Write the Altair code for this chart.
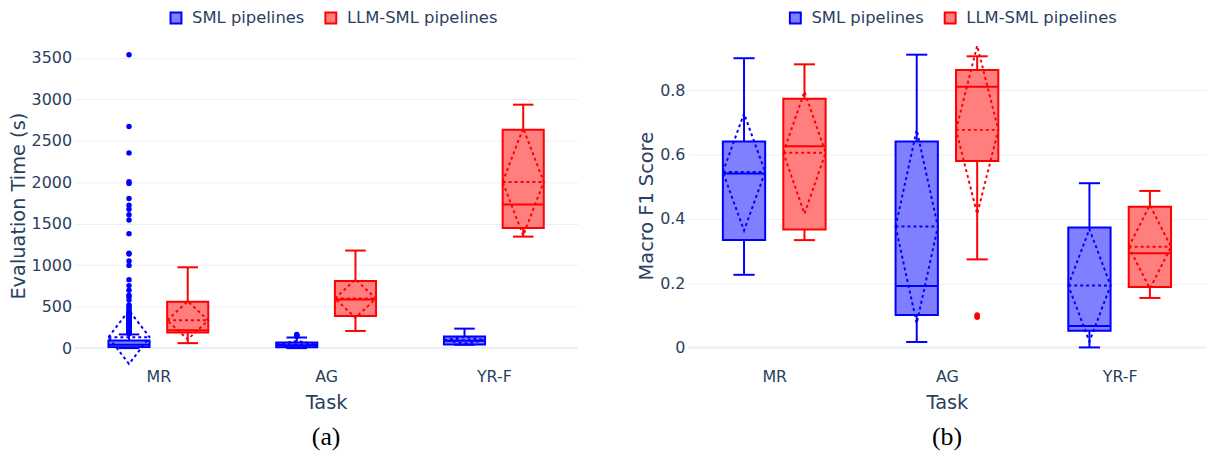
import json
import altair as alt
import pandas as pd

# ---------------- data ----------------
tasks = ["MR", "AG", "YR-F"]
series = ["SML pipelines", "LLM-SML pipelines"]

# Panel (a): Evaluation Time (s)
time_sml_lower = [0, 0, 40]
time_sml_q1 = [12, 10, 45]
time_sml_median = [40, 35, 90]
time_sml_q3 = [92, 68, 140]
time_sml_upper = [165, 128, 235]
time_sml_mean = [132, 45, 95]
time_sml_sd = [323, 40, 40]

time_llm_lower = [60, 207, 1345]
time_llm_q1 = [188, 387, 1449]
time_llm_median = [215, 587, 1732]
time_llm_q3 = [559, 810, 2634]
time_llm_upper = [975, 1177, 2937]
time_llm_mean = [335, 598, 2005]
time_llm_sd = [230, 231, 648]

time_sml_outliers_mr = [3540, 2674, 2355, 2008, 1987, 1804, 1724, 1676, 1608, 1545,
                        1381, 1146, 1134, 1050, 998, 826, 754, 698, 638, 619, 579,
                        519, 507, 480, 460, 440, 425, 410, 400, 390, 380, 370, 360,
                        350, 340, 330, 320, 310, 300, 290, 280, 270, 260, 250, 240,
                        230, 220, 210, 200, 190, 180, 172]
time_sml_outliers_ag = [140, 150, 158, 165]

# Panel (b): Macro F1 Score
f1_sml_lower = [0.226, 0.017, 0.0]
f1_sml_q1 = [0.334, 0.101, 0.052]
f1_sml_median = [0.541, 0.191, 0.067]
f1_sml_q3 = [0.641, 0.641, 0.373]
f1_sml_upper = [0.900, 0.911, 0.511]
f1_sml_mean = [0.546, 0.376, 0.193]
f1_sml_sd = [0.182, 0.301, 0.175]

f1_llm_lower = [0.334, 0.274, 0.154]
f1_llm_q1 = [0.367, 0.580, 0.188]
f1_llm_median = [0.626, 0.811, 0.293]
f1_llm_q3 = [0.774, 0.863, 0.438]
f1_llm_upper = [0.881, 0.906, 0.487]
f1_llm_mean = [0.606, 0.677, 0.313]
f1_llm_sd = [0.190, 0.262, 0.130]

f1_llm_outliers_ag = [0.101, 0.094, 0.098]

# ---------------- styling constants ----------------
STROKE = ["#0000ff", "#ff0000"]
FILL = ["#7f7fff", "#ff7f7f"]
TXT = "#2a3f5f"
GRID = "#ebf0f8"
FONT = "DejaVu Sans"
GROUP_OFF = {series[0]: -0.175, series[1]: 0.175}
HW = 0.1225  # half box width in category units


def box_frame(stats):
    rows = []
    for s, st in zip(series, stats):
        lower, q1, med, q3, upper, mean, sd = st
        for i, t in enumerate(tasks):
            p = i + GROUP_OFF[s]
            rows.append(dict(task=t, series=s, pos=p, left=p - HW, right=p + HW,
                             capl=p - HW / 2, capr=p + HW / 2,
                             lower=lower[i], q1=q1[i], median=med[i], q3=q3[i],
                             upper=upper[i], mean=mean[i], sd=sd[i]))
    return pd.DataFrame(rows)


def diamond_frame(df):
    rows = []
    shape = [(-1, 0), (0, 1), (1, 0), (0, -1), (-1, 0)]
    for _, r in df.iterrows():
        for k, (dx, dy) in enumerate(shape):
            rows.append(dict(key=r["task"] + r["series"], series=r["series"], k=k,
                             x=r["pos"] + dx * HW, y=r["mean"] + dy * r["sd"]))
    return pd.DataFrame(rows)


def outlier_frame(items):
    rows = []
    for s, t, vals in items:
        p = tasks.index(t) + GROUP_OFF[s]
        for v in vals:
            rows.append(dict(series=s, pos=p, v=v))
    return pd.DataFrame(rows)


label_expr = json.dumps(tasks) + "[datum.value]"


def panel(df, dia, outl, ytitle, ydomain, yvalues, yfmt, width, legend_x, caption):
    xs = alt.Scale(domain=[-0.5, 2.5], nice=False, zero=False)
    ys = alt.Scale(domain=ydomain, nice=False, zero=False)
    fill_scale = alt.Scale(domain=series, range=FILL)
    stroke_scale = alt.Scale(domain=series, range=STROKE)
    xaxis = alt.Axis(values=[0, 1, 2], labelExpr=label_expr, grid=False, domain=False,
                     ticks=False, title="Task", labelFont=FONT, labelFontSize=16,
                     labelColor=TXT, titleFont=FONT, titleFontSize=19.5,
                     titleColor=TXT, titleFontWeight="normal", labelPadding=2,
                     titlePadding=9)
    yaxis = alt.Axis(values=yvalues, format=yfmt, grid=True, gridColor=GRID,
                     gridWidth=1, domain=False, ticks=False, title=ytitle,
                     labelFont=FONT, labelFontSize=16, labelColor=TXT,
                     titleFont=FONT, titleFontSize=19.5, titleColor=TXT,
                     titleFontWeight="normal", labelPadding=3, titlePadding=3)
    legend = alt.Legend(title=None, orient="none", direction="horizontal",
                        legendX=legend_x, legendY=-35, symbolType="square",
                        symbolSize=121, symbolStrokeWidth=2, labelFont=FONT,
                        labelFontSize=16.5, labelColor=TXT, labelOffset=8,
                        columnPadding=16)

    base = alt.Chart(df)
    zero = alt.Chart(pd.DataFrame({"z": [0]})).mark_rule(
        color=GRID, strokeWidth=2).encode(y=alt.Y("z:Q", scale=ys))
    box = base.mark_rect(strokeWidth=2).encode(
        x=alt.X("left:Q", scale=xs, axis=xaxis),
        x2="right:Q",
        y=alt.Y("q1:Q", scale=ys, axis=yaxis),
        y2="q3:Q",
        fill=alt.Fill("series:N", scale=fill_scale, legend=legend),
        stroke=alt.Stroke("series:N", scale=stroke_scale, legend=legend),
    )
    stroke_enc = alt.Stroke("series:N", scale=stroke_scale, legend=None)
    whisk_lo = base.mark_rule(strokeWidth=2).encode(
        x="pos:Q", y="lower:Q", y2="q1:Q", stroke=stroke_enc)
    whisk_hi = base.mark_rule(strokeWidth=2).encode(
        x="pos:Q", y="q3:Q", y2="upper:Q", stroke=stroke_enc)
    cap_lo = base.mark_rule(strokeWidth=2).encode(
        x="capl:Q", x2="capr:Q", y="lower:Q", stroke=stroke_enc)
    cap_hi = base.mark_rule(strokeWidth=2).encode(
        x="capl:Q", x2="capr:Q", y="upper:Q", stroke=stroke_enc)
    med = base.mark_rule(strokeWidth=2).encode(
        x="left:Q", x2="right:Q", y="median:Q", stroke=stroke_enc)
    mean = base.mark_rule(strokeWidth=2, strokeDash=[3, 3]).encode(
        x="left:Q", x2="right:Q", y="mean:Q", stroke=stroke_enc)
    diamond = alt.Chart(dia).mark_line(strokeWidth=2, strokeDash=[3, 3]).encode(
        x=alt.X("x:Q", scale=xs), y=alt.Y("y:Q", scale=ys),
        detail="key:N", order="k:Q", stroke=stroke_enc)
    pts = alt.Chart(outl).mark_circle(size=30, opacity=1).encode(
        x=alt.X("pos:Q", scale=xs), y=alt.Y("v:Q", scale=ys),
        color=alt.Color("series:N", scale=stroke_scale, legend=None))
    return alt.layer(zero, box, whisk_lo, whisk_hi, cap_lo, cap_hi, med, mean,
                     diamond, pts).properties(
        width=width, height=325,
        title=alt.TitleParams(caption, orient="bottom", anchor="middle",
                              frame="group", font="Liberation Serif",
                              fontSize=26, color="black", fontWeight="normal",
                              offset=12))


time_df = box_frame([
    (time_sml_lower, time_sml_q1, time_sml_median, time_sml_q3, time_sml_upper,
     time_sml_mean, time_sml_sd),
    (time_llm_lower, time_llm_q1, time_llm_median, time_llm_q3, time_llm_upper,
     time_llm_mean, time_llm_sd),
])
f1_df = box_frame([
    (f1_sml_lower, f1_sml_q1, f1_sml_median, f1_sml_q3, f1_sml_upper,
     f1_sml_mean, f1_sml_sd),
    (f1_llm_lower, f1_llm_q1, f1_llm_median, f1_llm_q3, f1_llm_upper,
     f1_llm_mean, f1_llm_sd),
])
time_out = outlier_frame([(series[0], "MR", time_sml_outliers_mr),
                          (series[0], "AG", time_sml_outliers_ag)])
f1_out = outlier_frame([(series[1], "AG", f1_llm_outliers_ag)])

left = panel(time_df, diamond_frame(time_df), time_out, "Evaluation Time (s)",
             [-227.5, 3664], [0, 500, 1000, 1500, 2000, 2500, 3000, 3500], "d",
             507, 94, "(a)")
right = panel(f1_df, diamond_frame(f1_df), f1_out, "Macro F1 Score",
              [-0.0608, 0.943], [0, 0.2, 0.4, 0.6, 0.8], "~g",
              522, 100, "(b)")

chart = alt.hconcat(left, right, spacing=58).resolve_scale(
    fill="independent", stroke="independent", color="independent",
    x="independent", y="independent").resolve_legend(
    fill="independent", stroke="independent", color="independent").properties(
    padding=0, background="white").configure_view(stroke=None)

chart.save("out.html", embed_options={"renderer": "svg", "actions": False})
